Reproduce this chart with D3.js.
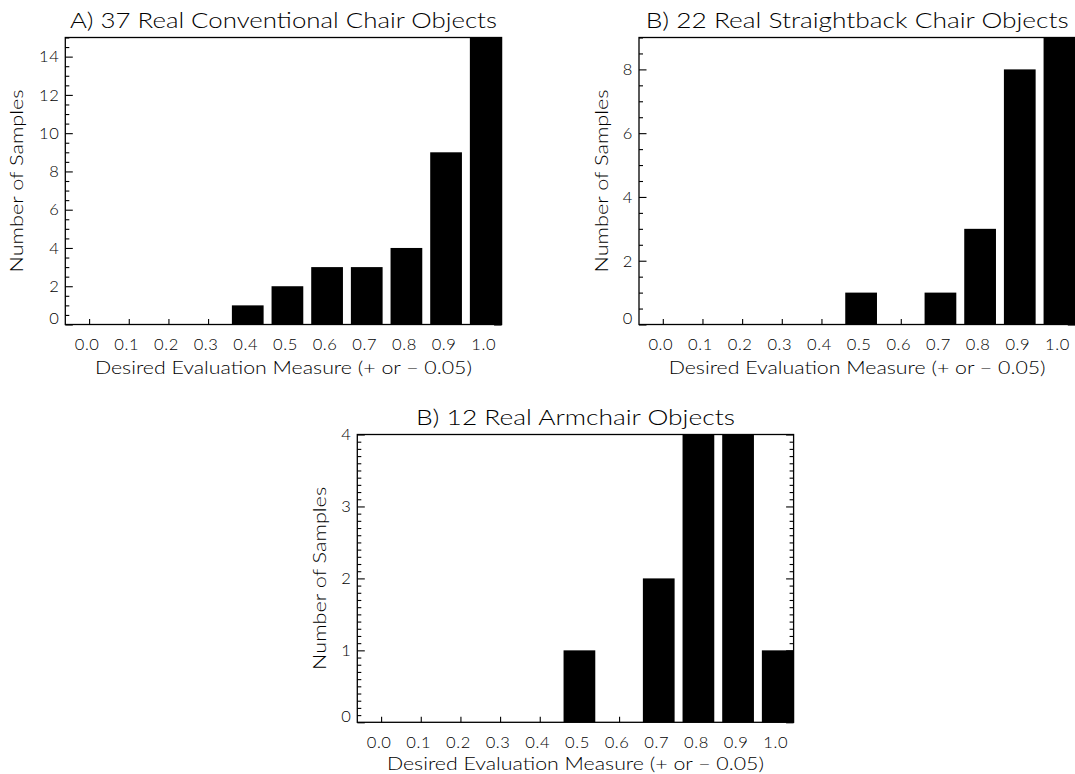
<!DOCTYPE html>
<html>
<head>
<meta charset="utf-8">
<script src="https://cdn.jsdelivr.net/npm/d3@7"></script>
<style>
  body { margin: 0; background: #fff; }
  svg { display: block; }
  text { font-family: Lato, "DejaVu Sans", sans-serif; font-weight: 300; fill: #000; }
</style>
</head>
<body>
<div id="chart"></div>
<script>
const width = 1075;
const height = 774;

// bin centres of the evaluation measure, and their labels
const bins = [0.0, 0.1, 0.2, 0.3, 0.4, 0.5, 0.6, 0.7, 0.8, 0.9, 1.0];
const binLabels = ["0.0", "0.1", "0.2", "0.3", "0.4", "0.5", "0.6", "0.7", "0.8", "0.9", "1.0"];

// counts per bin
const conventional = [0, 0, 0, 0, 1, 2, 3, 3, 4, 9, 15];
const straightback = [0, 0, 0, 0, 0, 1, 0, 1, 3, 8, 9];
const armchair = [0, 0, 0, 0, 0, 1, 0, 2, 4, 4, 1];

const titles = [
  "A) 37 Real Conventional Chair Objects",
  "B) 22 Real Straightback Chair Objects",
  "B) 12 Real Armchair Objects"
];
const xTitle = "Desired Evaluation Measure (+ or \u2212 0.05)";
const yTitle = "Number of Samples";

const svg = d3.select("#chart").append("svg")
  .attr("width", width)
  .attr("height", height);

function drawPanel(counts, title, o) {
  const x = d3.scaleLinear().domain([-0.06, 1.04]).range([o.left, o.right]);
  const y = d3.scaleLinear().domain([0, o.ymax]).range([o.bottom, o.top]);
  const g = svg.append("g");

  const major = d3.range(0, o.ymax + 1e-9, o.major);
  const minor = d3.range(0, o.ymax + 1e-9, o.minor).filter(v => Math.abs(v / o.major - Math.round(v / o.major)) > 1e-6);

  // minor ticks, left and right
  g.append("g")
    .attr("transform", `translate(${o.left},0)`)
    .call(d3.axisLeft(y).tickValues(minor).tickSize(-4).tickSizeOuter(0).tickFormat(""));
  g.append("g")
    .attr("transform", `translate(${o.right},0)`)
    .call(d3.axisRight(y).tickValues(minor).tickSize(-4).tickSizeOuter(0).tickFormat(""));

  // major ticks with labels
  const yl = g.append("g")
    .attr("transform", `translate(${o.left},0)`)
    .call(d3.axisLeft(y).tickValues(major).tickSize(-7.5).tickSizeOuter(0).tickPadding(6).tickFormat(d3.format("d")));
  g.append("g")
    .attr("transform", `translate(${o.right},0)`)
    .call(d3.axisRight(y).tickValues(major).tickSize(-7.5).tickSizeOuter(0).tickFormat(""));

  yl.selectAll(".tick text")
    .attr("font-size", 16.5)
    .attr("font-family", null)
    .attr("letter-spacing", 0.6)
    .filter(d => d === 0)
    .attr("dy", "-0.05em");

  // bottom ticks at bin centres
  const xl = g.append("g")
    .attr("transform", `translate(0,${o.bottom})`)
    .call(d3.axisBottom(x).tickValues(bins).tickSize(-5.5).tickSizeOuter(0).tickPadding(14)
      .tickFormat((d, i) => binLabels[i]));
  xl.selectAll(".tick text")
    .attr("font-size", 16.5)
    .attr("font-family", null)
    .attr("letter-spacing", 0.6)
    .attr("dx", -2.5);

  g.selectAll(".domain").remove();
  g.selectAll(".tick line").attr("stroke", "#000").attr("stroke-width", 1.1);

  // frame
  g.append("rect")
    .attr("x", o.left).attr("y", o.top)
    .attr("width", o.right - o.left).attr("height", o.bottom - o.top)
    .attr("fill", "none").attr("stroke", "#000").attr("stroke-width", 1.3);

  // bars
  g.append("g").selectAll("rect")
    .data(bins.map((b, i) => ({ b, n: counts[i] })))
    .join("rect")
    .attr("x", d => x(d.b - 0.04))
    .attr("width", d => x(d.b + 0.04) - x(d.b - 0.04))
    .attr("y", d => y(d.n))
    .attr("height", d => y(0) - y(d.n))
    .attr("fill", "#000");

  // titles
  const cx = (o.left + o.right) / 2;
  g.append("text")
    .attr("x", cx).attr("y", o.top - 10)
    .attr("text-anchor", "middle")
    .attr("font-size", 21.5)
    .attr("textLength", o.titleLen).attr("lengthAdjust", "spacingAndGlyphs")
    .text(title);

  g.append("text")
    .attr("x", cx).attr("y", o.bottom + o.xTitleOff)
    .attr("text-anchor", "middle")
    .attr("font-size", 17)
    .attr("textLength", 377).attr("lengthAdjust", "spacingAndGlyphs")
    .text(xTitle);

  g.append("text")
    .attr("transform", `translate(${o.left - o.yTitleOff},${(o.top + o.bottom) / 2}) rotate(-90)`)
    .attr("text-anchor", "middle")
    .attr("font-size", 17)
    .attr("textLength", 183).attr("lengthAdjust", "spacingAndGlyphs")
    .text(yTitle);
}

drawPanel(conventional, titles[0], {
  left: 65.3, right: 501.6, top: 37.5, bottom: 324.5,
  ymax: 15, major: 2, minor: 0.5, titleLen: 427, yTitleOff: 42, xTitleOff: 49.5
});
drawPanel(straightback, titles[1], {
  left: 639, right: 1075.3, top: 37.5, bottom: 324.5,
  ymax: 9, major: 2, minor: 0.5, titleLen: 423, yTitleOff: 31, xTitleOff: 49.5
});
drawPanel(armchair, titles[2], {
  left: 357.3, right: 793.6, top: 434.5, bottom: 722.3,
  ymax: 4, major: 1, minor: 0.1, titleLen: 319, yTitleOff: 31, xTitleOff: 47.5
});
</script>
</body>
</html>
